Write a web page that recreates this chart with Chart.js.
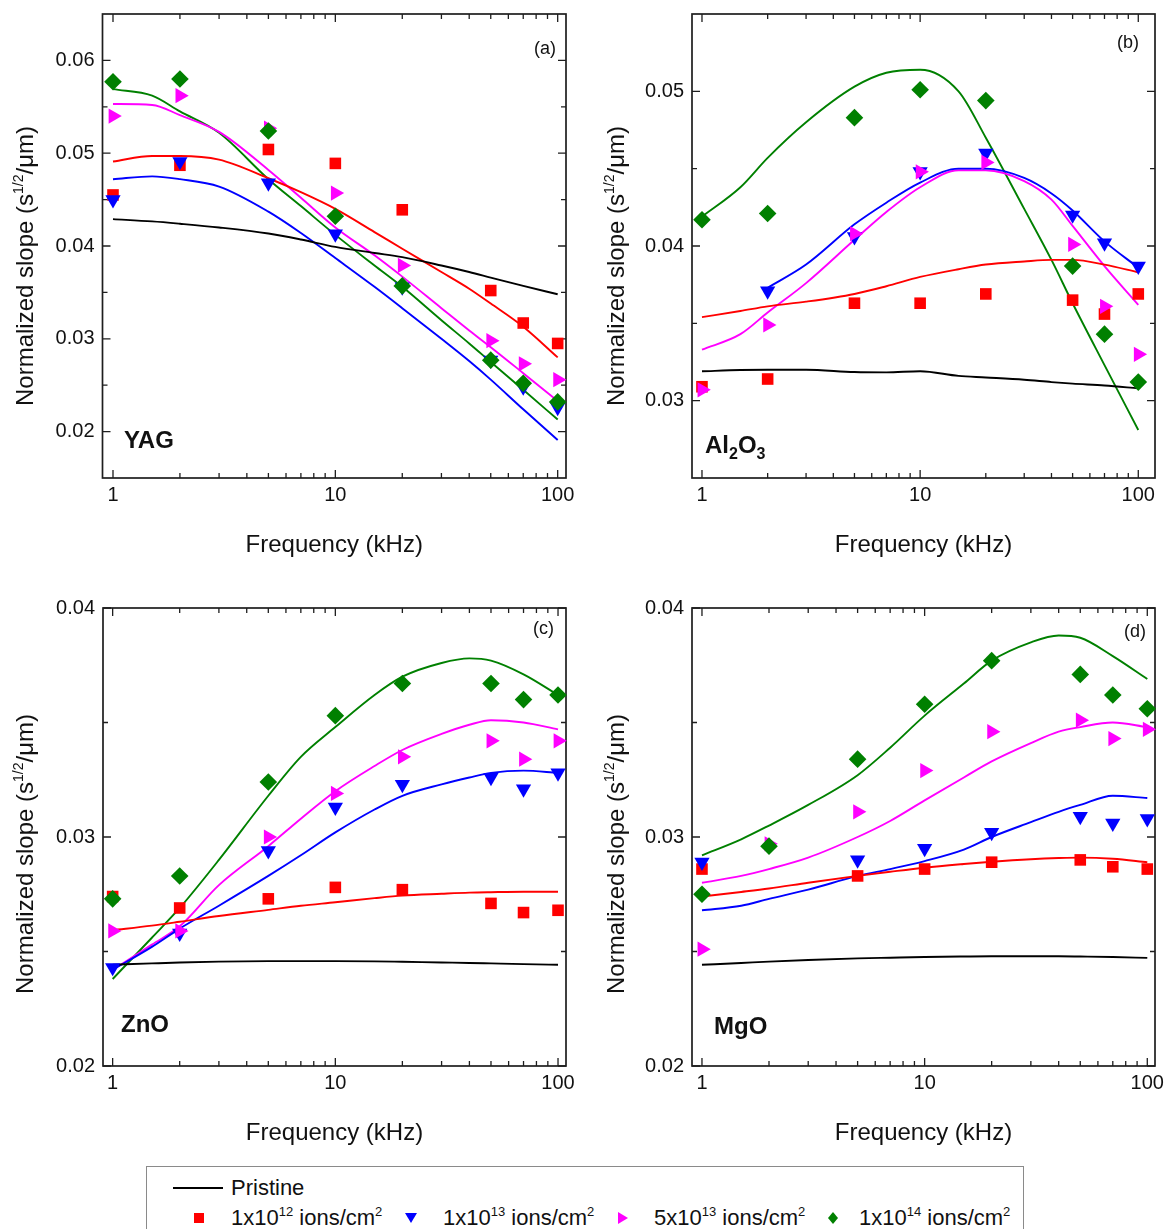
<!DOCTYPE html>
<html>
<head>
<meta charset="utf-8">
<script src="https://cdn.jsdelivr.net/npm/chart.js@4.4.1/dist/chart.umd.min.js"></script>
<style>
  body { margin: 0; background: #fff; width: 1164px; height: 1229px; position: relative; overflow: hidden;
         font-family: "Liberation Sans", Arial, sans-serif; color: #111; }
  canvas { position: absolute; }
  #legend { position: absolute; left: 146px; top: 1166px; width: 878px; height: 90px;
            border: 1px solid #8a8a8a; box-sizing: border-box; font-size: 22px; }
  #legend .item { position: absolute; white-space: nowrap; line-height: 22px; }
  #legend sup { font-size: 13px; vertical-align: 0; position: relative; top: -9px; }
  #legend svg { position: absolute; }
</style>
</head>
<body>
<canvas id="pa" width="590" height="580" style="left:0;top:0"></canvas>
<canvas id="pb" width="574" height="580" style="left:590px;top:0"></canvas>
<canvas id="pc" width="590" height="580" style="left:0;top:580px"></canvas>
<canvas id="pd" width="574" height="580" style="left:590px;top:580px"></canvas>
<div id="legend"></div>
<script>
// frequencies (kHz) of the measured points and of the fitted curves
const pointFreq = [1, 2, 5, 10, 20, 50, 70, 100];
const fitFreq = [1, 1.5, 2, 3, 5, 7, 10, 15, 20, 30, 40, 50, 70, 100];
const xMajor = [1, 10, 100];
const xMinor = [2, 3, 4, 5, 6, 7, 8, 9, 20, 30, 40, 50, 60, 70, 80, 90];

// series order: pristine, 1e12, 1e13, 5e13, 1e14 ions/cm2
const seriesNames = ['Pristine', '1x10^12', '1x10^13', '5x10^13', '1x10^14'];

// (a) YAG
const yagFits = [
  [0.0429, 0.04265, 0.0424, 0.0420, 0.04135, 0.0407, 0.0399, 0.03925, 0.0388, 0.0379, 0.0372, 0.0366, 0.0357, 0.0348],
  [0.0491, 0.0497, 0.0497, 0.0493, 0.0473, 0.0458, 0.0440, 0.0415, 0.0397, 0.0372, 0.0354, 0.0338, 0.0313, 0.0280],
  [0.0472, 0.0475, 0.0472, 0.0464, 0.0437, 0.0414, 0.0387, 0.0356, 0.0333, 0.0300, 0.0276, 0.0256, 0.0224, 0.0191],
  [0.0553, 0.0552, 0.0541, 0.0523, 0.0482, 0.0452, 0.0420, 0.0390, 0.0367, 0.0333, 0.0309, 0.0291, 0.0263, 0.0233],
  [0.0569, 0.0562, 0.0545, 0.0522, 0.0472, 0.0443, 0.0412, 0.0379, 0.0356, 0.0320, 0.0295, 0.0275, 0.0245, 0.0213]
];
const yagPoints = [
  [0.0455, 0.0487, 0.0504, 0.0489, 0.0439, 0.0352, 0.0317, 0.0295],
  [0.0450, 0.0491, 0.0468, 0.0413, 0.0356, 0.0277, 0.0248, 0.0226],
  [0.0540, 0.0562, 0.0527, 0.0457, 0.0379, 0.0298, 0.0273, 0.0256],
  [0.0577, 0.0580, 0.0524, 0.0432, 0.0357, 0.0277, 0.0252, 0.0232]
];

// (b) Al2O3
const aloFits = [
  [0.0319, 0.03198, 0.0320, 0.0320, 0.03185, 0.03183, 0.0319, 0.0316, 0.0315, 0.03135, 0.0312, 0.0311, 0.03098, 0.0308],
  [0.0354, 0.0358, 0.0361, 0.0364, 0.0369, 0.0374, 0.0380, 0.0385, 0.0388, 0.0390, 0.0391, 0.0391, 0.0388, 0.0383],
  [null, null, 0.0373, 0.0388, 0.0414, 0.0428, 0.0441, 0.0450, 0.0450, 0.0444, 0.0434, 0.0423, 0.0403, 0.0386],
  [0.0333, 0.0343, 0.0357, 0.0376, 0.0404, 0.0422, 0.0438, 0.0449, 0.0449, 0.0442, 0.0430, 0.0413, 0.0387, 0.0362],
  [0.0419, 0.0438, 0.0457, 0.0480, 0.0503, 0.0512, 0.0514, 0.0500, 0.0470, 0.0424, 0.0391, 0.0363, 0.0323, 0.0281]
];
const aloPoints = [
  [0.0309, 0.0314, 0.0363, 0.0363, 0.0369, 0.0365, 0.0356, 0.0369],
  [null, 0.0371, 0.0406, 0.0448, 0.0460, 0.0420, 0.0402, 0.0387],
  [0.0307, 0.0349, 0.0408, 0.0448, 0.0454, 0.0401, 0.0361, 0.0330],
  [0.0417, 0.0421, 0.0483, 0.0501, 0.0494, 0.0387, 0.0343, 0.0312]
];

// (c) ZnO
const znoFits = [
  [0.02442, 0.02448, 0.02452, 0.02456, 0.02458, 0.02458, 0.02458, 0.02457, 0.02455, 0.02452, 0.0245, 0.02448, 0.02445, 0.02442],
  [0.02593, 0.02613, 0.0263, 0.02655, 0.02682, 0.027, 0.02715, 0.02733, 0.02744, 0.02752, 0.02757, 0.02759, 0.02761, 0.02761],
  [0.0242, 0.0252, 0.0260, 0.0270, 0.0283, 0.0292, 0.0302, 0.0312, 0.0318, 0.0323, 0.0326, 0.0328, 0.0329, 0.0328],
  [0.0242, 0.0253, 0.0261, 0.0279, 0.0296, 0.0308, 0.0320, 0.0331, 0.0338, 0.0345, 0.0349, 0.0351, 0.0350, 0.0347],
  [0.0238, 0.0256, 0.0269, 0.0290, 0.0318, 0.0335, 0.0348, 0.0362, 0.0370, 0.0376, 0.0378, 0.0377, 0.0371, 0.0362]
];
const znoPoints = [
  [0.0274, 0.0269, 0.0273, 0.0278, 0.0277, 0.0271, 0.0267, 0.0268],
  [0.0243, 0.0258, 0.0294, 0.0313, 0.0323, 0.0326, 0.0321, 0.0328],
  [0.0259, 0.0259, 0.0300, 0.0319, 0.0335, 0.0342, 0.0334, 0.0342],
  [0.0273, 0.0283, 0.0324, 0.0353, 0.0367, 0.0367, 0.0360, 0.0362]
];

// (d) MgO
const mgoFits = [
  [0.02442, 0.0245, 0.02456, 0.02463, 0.0247, 0.02473, 0.02476, 0.02478, 0.02479, 0.02479, 0.02479, 0.02478, 0.02476, 0.02472],
  [0.0274, 0.0276, 0.02775, 0.028, 0.0283, 0.02848, 0.02866, 0.02882, 0.02892, 0.02903, 0.02908, 0.0291, 0.02905, 0.0289],
  [0.0268, 0.0270, 0.0273, 0.0277, 0.0283, 0.0286, 0.02895, 0.02945, 0.0300, 0.03065, 0.0311, 0.0314, 0.0318, 0.0317],
  [0.0280, 0.0283, 0.0286, 0.0291, 0.0300, 0.0307, 0.0316, 0.0326, 0.0333, 0.0341, 0.0346, 0.0348, 0.0350, 0.0348],
  [0.0292, 0.0299, 0.0305, 0.0314, 0.0327, 0.0339, 0.0353, 0.0367, 0.0377, 0.0385, 0.0388, 0.0387, 0.0379, 0.0369]
];
const mgoPoints = [
  [0.0286, null, 0.0283, 0.0286, 0.0289, 0.0290, 0.0287, 0.0286],
  [0.0289, null, 0.0290, 0.0295, 0.0302, 0.0309, 0.0306, 0.0308],
  [0.0251, 0.0297, 0.0311, 0.0329, 0.0346, 0.0351, 0.0343, 0.0347],
  [0.0275, 0.0296, 0.0334, 0.0358, 0.0377, 0.0371, 0.0362, 0.0356]
];

const FONT = '"Liberation Sans", Arial, sans-serif';
const colors = ['#000000', '#ff0000', '#0000ff', '#ff00ff', '#008000'];
const markers = [
  { style: 'rect', rot: 0, r: 8.2 },
  { style: 'triangle', rot: 180, r: 8.8 },
  { style: 'triangle', rot: 90, r: 8.8 },
  { style: 'rectRot', rot: 0, r: 8.8 }
];

function drawParts(ctx, parts, x, y, bold) {
  let cx = x;
  parts.forEach(([txt, size, dy]) => {
    ctx.font = (bold ? 'bold ' : '') + size + 'px ' + FONT;
    ctx.fillText(txt, cx, y + dy);
    cx += ctx.measureText(txt).width;
  });
}

// box, inward ticks on all four sides, y title and panel labels
const panelFrame = {
  id: 'panelFrame',
  beforeDatasetsDraw(chart, args, o) {
    const { ctx, chartArea: a, scales: { x, y } } = chart;
    ctx.save();
    ctx.strokeStyle = '#1e1e1e';
    ctx.lineWidth = 1.3;
    ctx.beginPath();
    const xt = (v, len) => {
      const p = x.getPixelForValue(v);
      ctx.moveTo(p, a.bottom); ctx.lineTo(p, a.bottom - len);
      ctx.moveTo(p, a.top); ctx.lineTo(p, a.top + len);
    };
    const yt = (v, len) => {
      const p = y.getPixelForValue(v);
      ctx.moveTo(a.left, p); ctx.lineTo(a.left + len, p);
      ctx.moveTo(a.right, p); ctx.lineTo(a.right - len, p);
    };
    xMajor.forEach(v => xt(v, 8));
    xMinor.forEach(v => xt(v, 5));
    o.yMajor.forEach(v => yt(v, 8));
    o.yMinor.forEach(v => yt(v, 5));
    ctx.stroke();
    ctx.lineWidth = 1.7;
    ctx.strokeRect(a.left, a.top, a.right - a.left, a.bottom - a.top);
    ctx.restore();
  },
  afterDraw(chart, args, o) {
    const ctx = chart.ctx;
    ctx.save();
    ctx.fillStyle = '#111';
    ctx.textBaseline = 'alphabetic';
    // rotated y title with the 1/2 exponent raised
    ctx.save();
    ctx.translate(o.yTitle[0], o.yTitle[1]);
    ctx.rotate(-Math.PI / 2);
    const parts = [['Normalized slope (s', 24, 0], ['1/2', 14, -10], ['/\u03bcm)', 24, 0]];
    let w = 0;
    parts.forEach(([t, s]) => { ctx.font = s + 'px ' + FONT; w += ctx.measureText(t).width; });
    drawParts(ctx, parts, -w / 2, 0, false);
    ctx.restore();
    // material name
    drawParts(ctx, o.material, o.matPos[0], o.matPos[1] + 8.6, true);
    // panel letter
    ctx.font = '18px ' + FONT;
    ctx.textAlign = 'right';
    ctx.textBaseline = 'middle';
    ctx.fillText(o.letter, o.letterPos[0], o.letterPos[1]);
    ctx.restore();
  }
};

function buildPanel(id, p) {
  const canvas = document.getElementById(id);
  const W = canvas.width, H = canvas.height;
  const datasets = [];
  p.points.forEach((vals, i) => {
    const m = markers[i];
    datasets.push({
      label: seriesNames[i + 1],
      data: pointFreq.map((f, j) => ({ x: f, y: vals[j] })),
      showLine: false,
      pointStyle: m.style,
      pointRotation: m.rot,
      pointRadius: m.r,
      pointBackgroundColor: colors[i + 1],
      pointBorderColor: colors[i + 1],
      pointBorderWidth: 0,
      order: 4 - i,
      clip: false
    });
  });
  p.fits.forEach((vals, i) => {
    datasets.push({
      label: seriesNames[i] + ' fit',
      data: fitFreq.map((f, j) => ({ x: f, y: vals[j] })),
      borderColor: colors[i],
      borderWidth: 1.9,
      pointRadius: 0,
      cubicInterpolationMode: 'monotone',
      fill: false,
      order: 10 + i
    });
  });

  const tickFont = { family: FONT, size: 20 };
  new Chart(canvas, {
    type: 'line',
    data: { datasets },
    plugins: [panelFrame],
    options: {
      responsive: false,
      animation: false,
      devicePixelRatio: 1,
      layout: { padding: { left: 0, top: p.area.top, right: W - p.area.right, bottom: 0 } },
      plugins: {
        legend: { display: false },
        tooltip: { enabled: false },
        panelFrame: {
          yMajor: p.yMajor, yMinor: p.yMinor,
          yTitle: p.yTitle, material: p.material, matPos: p.matPos,
          letter: p.letter, letterPos: p.letterPos
        }
      },
      scales: {
        x: {
          type: 'logarithmic',
          min: p.xMin, max: p.xMax,
          grid: { display: false, drawTicks: false },
          border: { display: false },
          afterBuildTicks: s => { s.ticks = xMajor.map(v => ({ value: v })); },
          afterFit: s => { s.height = H - p.area.bottom; s.paddingLeft = 0; s.paddingRight = 0; },
          ticks: { autoSkip: false, maxRotation: 0, padding: 5, color: '#111', font: tickFont,
                   callback: v => String(v) },
          title: { display: true, text: 'Frequency (kHz)', color: '#111',
                   font: { family: FONT, size: 24 },
                   padding: { top: 0, bottom: H - (p.area.bottom + 67) - 14.4 } }
        },
        y: {
          type: 'linear',
          min: p.yMin, max: p.yMax,
          grid: { display: false, drawTicks: false },
          border: { display: false },
          afterBuildTicks: s => { s.ticks = p.yMajor.map(v => ({ value: v })); },
          afterFit: s => { s.width = p.area.left; s.paddingTop = 0; s.paddingBottom = 0; },
          ticks: { padding: 8, color: '#111', font: tickFont, callback: v => v.toFixed(2) }
        }
      }
    }
  });
}

buildPanel('pa', {
  fits: yagFits, points: yagPoints,
  area: { left: 102.5, right: 566, top: 14, bottom: 478 },
  xMin: 0.897, xMax: 109, yMin: 0.015, yMax: 0.065,
  yMajor: [0.02, 0.03, 0.04, 0.05, 0.06], yMinor: [0.025, 0.035, 0.045, 0.055],
  yTitle: [33, 266], material: [['YAG', 24, 0]], matPos: [124, 439],
  letter: '(a)', letterPos: [556, 49]
});
buildPanel('pb', {
  fits: aloFits, points: aloPoints,
  area: { left: 102, right: 565, top: 14, bottom: 478 },
  xMin: 0.9, xMax: 119.3, yMin: 0.025, yMax: 0.055,
  yMajor: [0.03, 0.04, 0.05], yMinor: [0.035, 0.045],
  yTitle: [34, 266], material: [['Al', 24, 0], ['2', 16, 6], ['O', 24, 0], ['3', 16, 6]], matPos: [115, 444],
  letter: '(b)', letterPos: [549, 43]
});
buildPanel('pc', {
  fits: znoFits, points: znoPoints,
  area: { left: 103, right: 566, top: 28, bottom: 486 },
  xMin: 0.905, xMax: 108.6, yMin: 0.02, yMax: 0.04,
  yMajor: [0.02, 0.03, 0.04], yMinor: [0.025, 0.035],
  yTitle: [33, 274], material: [['ZnO', 24, 0]], matPos: [121, 443],
  letter: '(c)', letterPos: [554, 49]
});
buildPanel('pd', {
  fits: mgoFits, points: mgoPoints,
  area: { left: 102, right: 565, top: 28, bottom: 486 },
  xMin: 0.902, xMax: 108.3, yMin: 0.02, yMax: 0.04,
  yMajor: [0.02, 0.03, 0.04], yMinor: [0.025, 0.035],
  yTitle: [34, 274], material: [['MgO', 24, 0]], matPos: [124, 445],
  letter: '(d)', letterPos: [556, 52]
});

// legend box under the four panels
const legendMant = ['1', '1', '5', '1'];
const legendExp = ['12', '13', '13', '14'];
const legendSymbolX = [52, 264, 476, 686];
const legendTextX = [84, 296, 507, 712];
const legendShapes = [
  '<rect x="1" y="1" width="10" height="10"/>',
  '<polygon points="0,1 12,1 6,11"/>',
  '<polygon points="1,0 11,6 1,12"/>',
  '<polygon points="6,0 11,6 6,12 1,6"/>'
];
const legend = document.getElementById('legend');
let html = '<div class="item" style="left:26px;top:20px;width:50px;height:2px;background:#000"></div>' +
           '<div class="item" style="left:84px;top:10px">Pristine</div>';
legendMant.forEach((m, i) => {
  html += '<svg width="12" height="12" style="left:' + (legendSymbolX[i] - 6) + 'px;top:45px" fill="' + colors[i + 1] + '">' +
          legendShapes[i] + '</svg>';
  html += '<div class="item" style="left:' + legendTextX[i] + 'px;top:40px">' + m + 'x10<sup>' + legendExp[i] +
          '</sup> ions/cm<sup>2</sup></div>';
});
legend.innerHTML = html;
</script>
</body>
</html>
